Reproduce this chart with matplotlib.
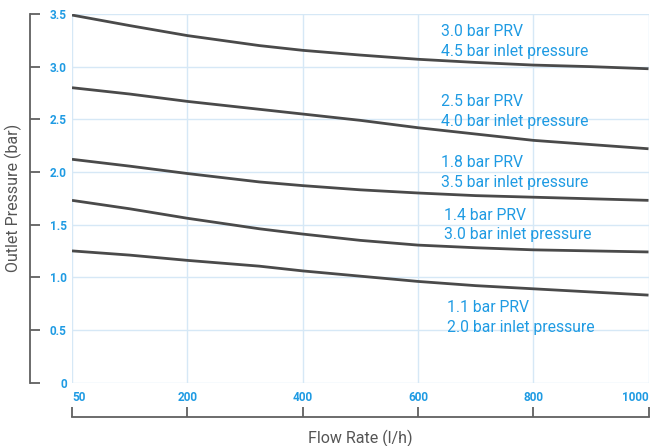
import numpy as np
import matplotlib
matplotlib.use("Agg")
import matplotlib.pyplot as plt

plt.rcParams['font.family'] = ['Roboto', 'DejaVu Sans']

# x axis is spaced evenly by tick, not by value
flow_ticks = [50, 200, 400, 600, 800, 1000]
pressure_ticks = [0, 0.5, 1.0, 1.5, 2.0, 2.5, 3.0, 3.5]
pressure_labels = ["0", "0.5", "1.0", "1.5", "2.0", "2.5", "3.0", "3.5"]

flow = [50, 125, 200, 325, 400, 500, 600, 700, 800, 900, 1000]
prv_30 = [3.49, 3.39, 3.295, 3.20, 3.155, 3.11, 3.07, 3.04, 3.015, 3.00, 2.98]
prv_25 = [2.80, 2.74, 2.67, 2.595, 2.55, 2.49, 2.42, 2.36, 2.30, 2.26, 2.22]
prv_18 = [2.12, 2.055, 1.985, 1.905, 1.87, 1.83, 1.80, 1.775, 1.76, 1.745, 1.73]
prv_14 = [1.73, 1.65, 1.56, 1.46, 1.41, 1.35, 1.305, 1.28, 1.26, 1.25, 1.24]
prv_11 = [1.25, 1.21, 1.16, 1.105, 1.06, 1.01, 0.96, 0.92, 0.89, 0.86, 0.83]

curves = [prv_30, prv_25, prv_18, prv_14, prv_11]
labels = [
    ("3.0 bar PRV", "4.5 bar inlet pressure"),
    ("2.5 bar PRV", "4.0 bar inlet pressure"),
    ("1.8 bar PRV", "3.5 bar inlet pressure"),
    ("1.4 bar PRV", "3.0 bar inlet pressure"),
    ("1.1 bar PRV", "2.0 bar inlet pressure"),
]
# label anchor (flow, line1 y, line2 y)
label_pos = [
    (640, 3.33, 3.14),
    (640, 2.667, 2.483),
    (640, 2.091, 1.901),
    (646, 1.584, 1.401),
    (651, 0.714, 0.524),
]

BLUE = "#1f9be3"
LINE = "#4a4a4a"
GRID = "#d6e8f6"
AXIS = "#606060"

fig = plt.figure(figsize=(6.54, 4.46), dpi=100)
W, H = 654, 446
ax = fig.add_axes([72 / W, (H - 382.5) / H, (648.5 - 72) / W, (382.5 - 14) / H])

pos = np.arange(len(flow_ticks))
fwd = lambda v: np.interp(v, flow_ticks, pos)
inv = lambda p: np.interp(p, pos, flow_ticks)
ax.set_xscale('function', functions=(fwd, inv))

for ys in curves:
    ax.plot(flow, ys, color=LINE, lw=2.0, solid_capstyle='butt',
            solid_joinstyle='round', zorder=3)

for (l1, l2), (fx, y1, y2) in zip(labels, label_pos):
    ax.text(fx, y1, l1, color=BLUE, fontsize=11.3, ha='left', va='center')
    ax.text(fx, y2, l2, color=BLUE, fontsize=11.3, ha='left', va='center')

ax.set_xlim(50, 1000)
ax.set_ylim(0, 3.5)
ax.set_xticks(flow_ticks)
ax.set_xticklabels([str(v) for v in flow_ticks])
ax.set_yticks(pressure_ticks)
ax.set_yticklabels(pressure_labels)

ax.grid(True, color=GRID, lw=1.0)
ax.set_axisbelow(True)

ax.spines['top'].set_visible(False)
ax.spines['right'].set_visible(False)
ax.spines['left'].set_position(('outward', 42 * 0.72))
ax.spines['bottom'].set_position(('outward', 34.2 * 0.72))
for s in ('left', 'bottom'):
    ax.spines[s].set_color(AXIS)
    ax.spines[s].set_linewidth(1.3)

ax.tick_params(axis='y', direction='in', length=7.2, width=1.3, color=AXIS,
               pad=-36.7 * 0.72, labelcolor=BLUE, labelsize=8.5)
ax.tick_params(axis='x', direction='in', length=7.2, width=1.3, color=AXIS,
               pad=-25.5 * 0.72, labelcolor=BLUE, labelsize=8.5)
for t in ax.get_xticklabels() + ax.get_yticklabels():
    t.set_fontweight('bold')
xt = ax.get_xticklabels()
xt[0].set_ha('left')
xt[-1].set_ha('right')

fig.text(360 / W, 1 - 438 / H, "Flow Rate (l/h)", color="#555555", fontsize=11.5,
         ha='center', va='center')
fig.text(13 / W, 1 - 198 / H, "Outlet Pressure (bar)", color="#555555", fontsize=11.5,
         ha='center', va='center', rotation=90)

fig.savefig("out.png", dpi=100)
